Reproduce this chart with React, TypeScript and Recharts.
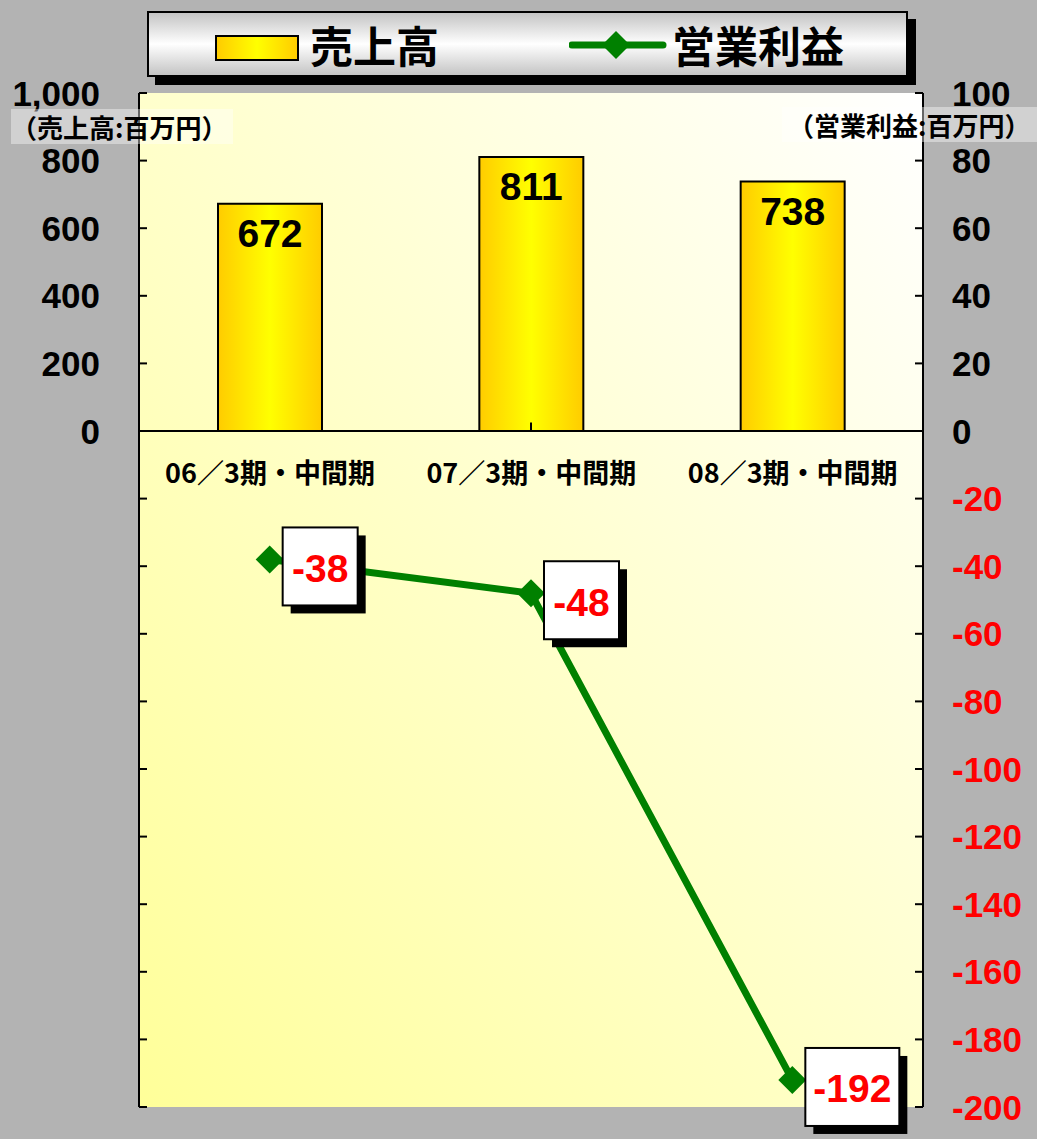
import React from 'react';
import { ComposedChart, Bar, Line, XAxis, YAxis, CartesianGrid, ReferenceLine, LabelList } from 'recharts';

const periods = ['06／3期・中間期', '07／3期・中間期', '08／3期・中間期'];
const sales = [672, 811, 738];
const operatingProfit = [-38, -48, -192];
const salesTicks = [-2000, -1800, -1600, -1400, -1200, -1000, -800, -600, -400, -200, 0, 200, 400, 600, 800, 1000];
const profitTicks = [-200, -180, -160, -140, -120, -100, -80, -60, -40, -20, 0, 20, 40, 60, 80, 100];
const periodBoundaries = [1, 2];

const data = periods.map((period, i) => ({ period, sales: sales[i], profit: operatingProfit[i] }));

const NUM_FONT = '"Liberation Sans", Arial, sans-serif';
const JP_FONT = '"Noto Sans CJK JP", "Noto Sans", sans-serif';

const SalesTick = ({ x, y, payload }: any) => {
  if (payload.value < 0) return null;
  return (
    <text x={x} y={y} dy="0.36em" textAnchor="end" fontFamily={NUM_FONT} fontWeight="bold" fontSize={35} fill="#000">
      {payload.value.toLocaleString('en-US')}
    </text>
  );
};

const ProfitTick = ({ x, y, payload }: any) => (
  <text x={x} y={y} dy="0.36em" textAnchor="start" fontFamily={NUM_FONT} fontWeight="bold" fontSize={35}
    fill={payload.value < 0 ? '#ff0000' : '#000'}>
    {payload.value}
  </text>
);

const SalesValueLabel = ({ x, y, width, value }: any) => (
  <text x={x + width / 2} y={y + 30} dominantBaseline="central" textAnchor="middle"
    fontFamily={NUM_FONT} fontWeight="bold" fontSize={39} fill="#000">
    {value}
  </text>
);

const PeriodLabel = ({ x, y, width, height, value }: any) => (
  <text x={x + width / 2} y={y + height + 40} dominantBaseline="central" textAnchor="middle"
    fontFamily={JP_FONT} fontWeight="bold" fontSize={27} fill="#000">
    {value}
  </text>
);

const ProfitLabel = ({ x, y, value }: any) => {
  const text = String(value);
  const w = 18 + text.length * 19;
  const h = 78;
  const left = x + 13;
  const top = y - 32;
  return (
    <g>
      <rect x={left + 8} y={top + 8} width={w} height={h} fill="#000" />
      <rect x={left} y={top} width={w} height={h} fill="#fff" stroke="#000" strokeWidth={2} />
      <text x={left + w / 2} y={top + h / 2 + 2} dominantBaseline="central" textAnchor="middle"
        fontFamily={NUM_FONT} fontWeight="bold" fontSize={39} fill="#ff0000">
        {text}
      </text>
    </g>
  );
};

const Diamond = ({ cx, cy, index }: any) => (
  <path key={index} d={`M${cx - 14},${cy} L${cx},${cy - 14} L${cx + 14},${cy} L${cx},${cy + 14} Z`} fill="#008000" />
);

const legendText: React.CSSProperties = {
  position: 'absolute', top: 3, fontFamily: JP_FONT, fontWeight: 'bold', fontSize: 43, lineHeight: '56px', color: '#000',
};

const unitLabel: React.CSSProperties = {
  position: 'absolute', fontFamily: JP_FONT, fontWeight: 'bold', fontSize: 26, lineHeight: '35px',
  background: 'rgba(255,255,255,0.4)', color: '#000', whiteSpace: 'nowrap',
};

export default function App() {
  return (
    <div style={{ position: 'absolute', left: 0, top: 0, width: 1037, height: 1139, background: '#b3b3b3', overflow: 'hidden' }}>
      <ComposedChart width={1037} height={1139} data={data} margin={{ top: 93, right: 0, bottom: 32, left: 0 }}>
        <defs>
          <linearGradient id="barFill" x1="0" y1="0" x2="1" y2="0">
            <stop offset="0%" stopColor="#ffcc00" />
            <stop offset="50%" stopColor="#ffff00" />
            <stop offset="100%" stopColor="#ffcc00" />
          </linearGradient>
          <linearGradient id="plotFill" x1="0" y1="1" x2="1" y2="0">
            <stop offset="0%" stopColor="#ffff99" />
            <stop offset="100%" stopColor="#ffffff" />
          </linearGradient>
        </defs>
        <CartesianGrid horizontal={false} vertical={false} fill="url(#plotFill)" yAxisId="left" xAxisId="cat" />
        <XAxis xAxisId="cat" dataKey="period" hide />
        <XAxis xAxisId="pos" type="number" domain={[0, 3]} allowDataOverflow hide />
        <YAxis yAxisId="left" orientation="left" width={139} domain={[-2000, 1000]} ticks={salesTicks}
          allowDataOverflow interval={0} axisLine={{ stroke: '#000', strokeWidth: 2 }}
          tickLine={{ stroke: '#000', strokeWidth: 2 }} tickSize={-8} tickMargin={47} tick={<SalesTick />} />
        <YAxis yAxisId="right" orientation="right" width={114} domain={[-200, 100]} ticks={profitTicks}
          allowDataOverflow interval={0} axisLine={{ stroke: '#000', strokeWidth: 2 }}
          tickLine={{ stroke: '#000', strokeWidth: 2 }} tickSize={-8} tickMargin={37} tick={<ProfitTick />} />
        <ReferenceLine yAxisId="left" xAxisId="cat" y={0} stroke="#000" strokeWidth={2} />
        {periodBoundaries.map((b) => (
          <ReferenceLine key={b} xAxisId="pos" yAxisId="left" segment={[{ x: b, y: 0 }, { x: b, y: 25 }]}
            stroke="#000" strokeWidth={2} />
        ))}
        <Bar xAxisId="cat" yAxisId="left" dataKey="sales" barSize={104} fill="url(#barFill)" stroke="#000"
          strokeWidth={2} isAnimationActive={false}>
          <LabelList dataKey="sales" content={<SalesValueLabel />} />
          <LabelList dataKey="period" content={<PeriodLabel />} />
        </Bar>
        <Line xAxisId="cat" yAxisId="right" dataKey="profit" stroke="#008000" strokeWidth={7} dot={<Diamond />}
          activeDot={false} isAnimationActive={false}>
          <LabelList dataKey="profit" content={<ProfitLabel />} />
        </Line>
      </ComposedChart>

      <div style={{
        position: 'absolute', left: 147, top: 11, width: 757, height: 62, border: '2px solid #000',
        boxShadow: '8px 8px 0 #000', background: 'linear-gradient(to bottom, #c4c4c4, #ffffff 50%, #c4c4c4)',
      }}>
        <div style={{ position: 'absolute', left: 66, top: 22, width: 80, height: 22, border: '2px solid #000',
          background: 'linear-gradient(to right, #ffcc00, #ffff00 50%, #ffcc00)' }} />
        <div style={{ ...legendText, left: 161 }}>売上高</div>
        <svg style={{ position: 'absolute', left: 420, top: 14 }} width={100} height={36}>
          <line x1={3} y1={18} x2={94} y2={18} stroke="#008000" strokeWidth={7} strokeLinecap="round" />
          <path d="M33,18 L47,4 L61,18 L47,32 Z" fill="#008000" />
        </svg>
        <div style={{ ...legendText, left: 523 }}>営業利益</div>
      </div>

      <div style={{ ...unitLabel, left: 11, top: 109, padding: '0 6px 0 0' }}>（売上高:百万円）</div>
      <div style={{ ...unitLabel, left: 782, top: 107, padding: '0 10px 0 6px' }}>（営業利益:百万円）</div>
    </div>
  );
}
